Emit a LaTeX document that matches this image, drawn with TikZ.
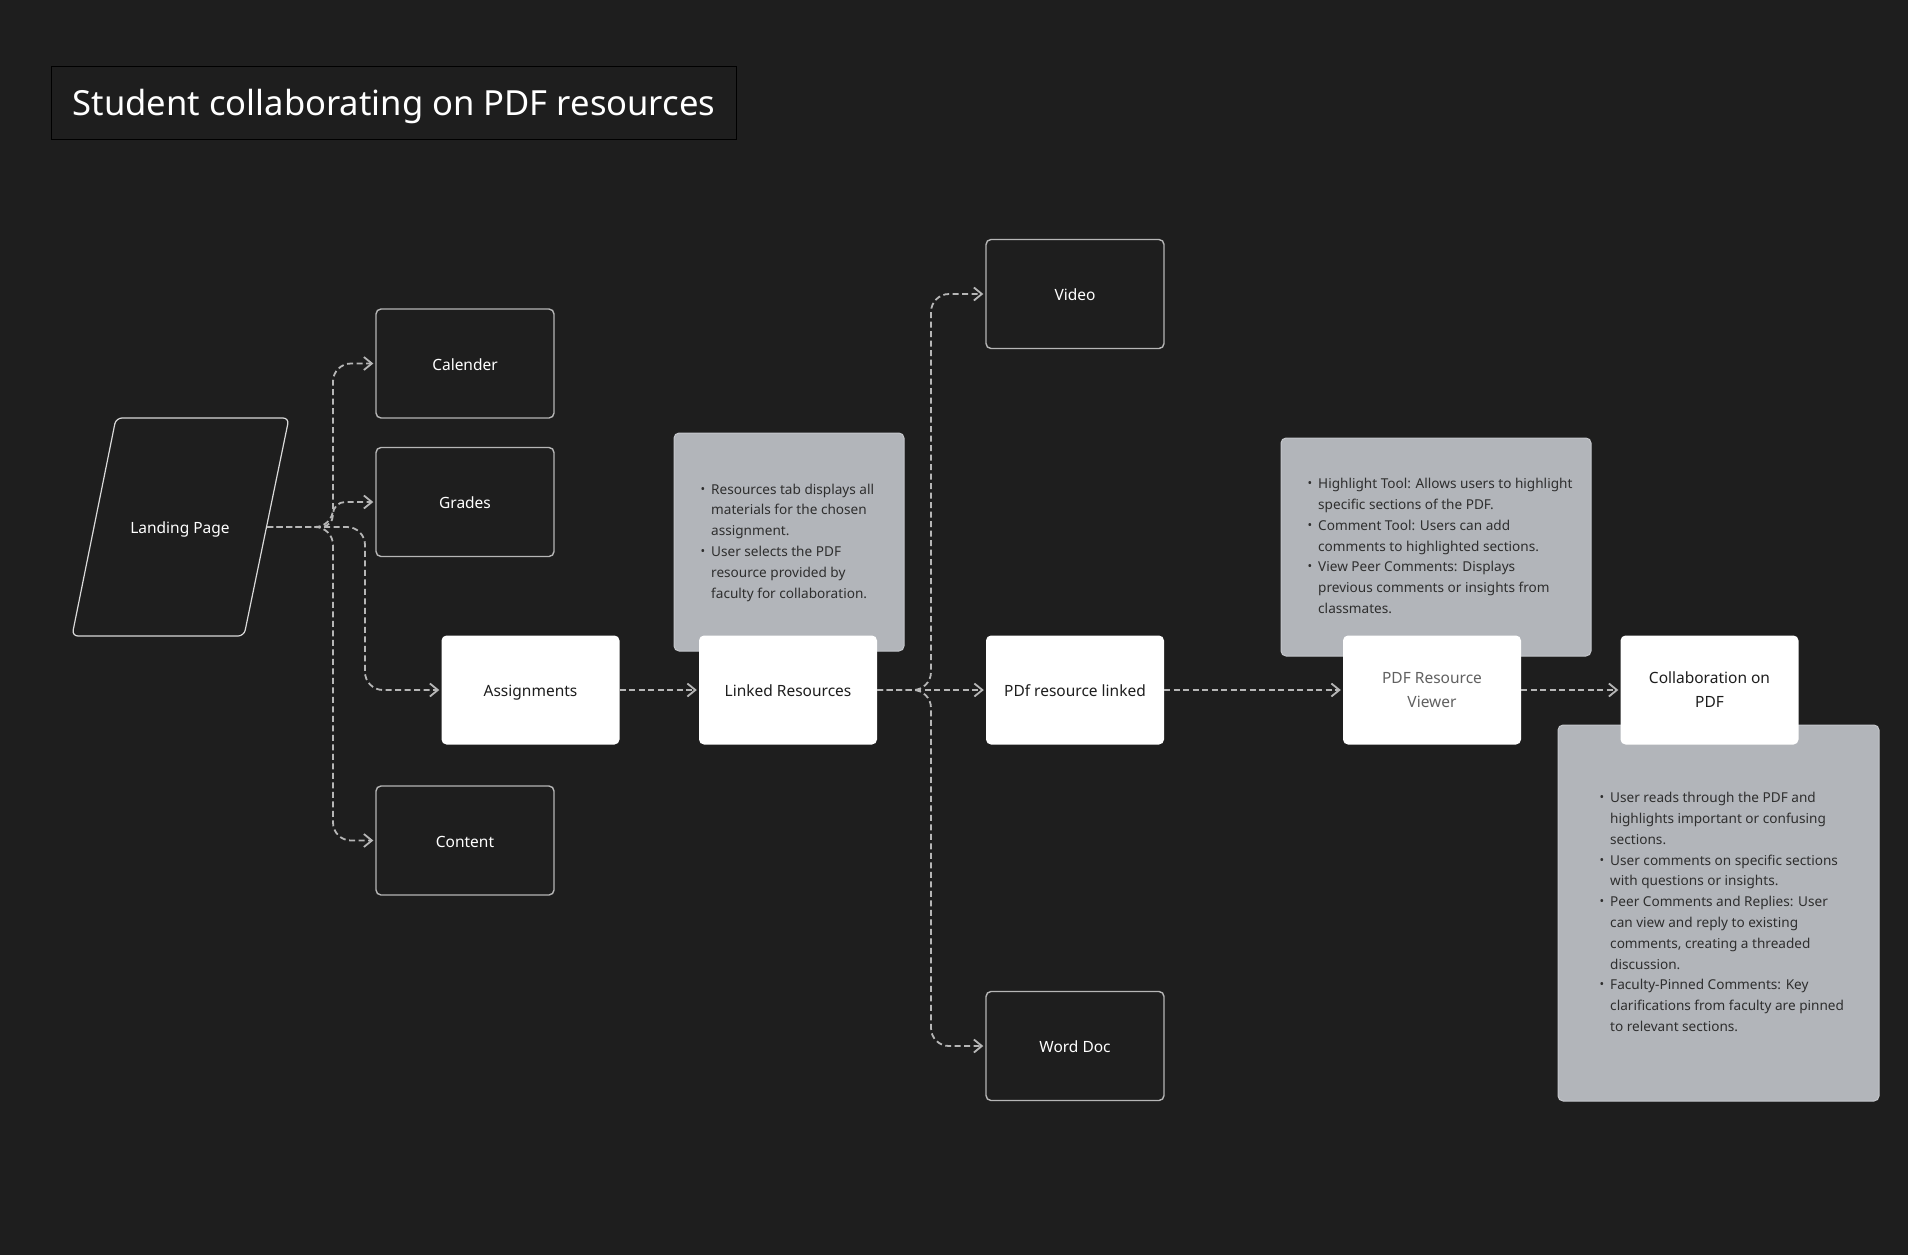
\documentclass[tikz,border=0pt]{standalone}
\usepackage{fontspec}
\setmainfont{Noto Sans}
\usepackage{graphicx}
\usepackage{tikz}
\usetikzlibrary{arrows.meta, positioning, calc}

\definecolor{bgc}{HTML}{1E1E1E}
\definecolor{linec}{HTML}{B6B6B6}
\definecolor{notec}{HTML}{B2B5BA}
\definecolor{notetxt}{HTML}{2E2E2E}
\definecolor{boxtxt}{HTML}{1E1E1E}

\newcommand{\nb}{\makebox[10.5pt][l]{\raisebox{0.15ex}{\scalebox{0.9}{\textbullet}}}}

\begin{document}
\begin{tikzpicture}[x=1pt,y=-1pt,
  oneline/.style={text height=13pt, text depth=0pt},
  darkbox/.style={draw=linec, line width=1.4pt, fill=bgc, rounded corners=5pt,
    minimum width=178pt, minimum height=109pt, text=white, oneline,
    font=\fontsize{15.5}{19}\selectfont},
  whitebox/.style={fill=white, rounded corners=5pt, minimum width=178pt,
    minimum height=109pt, text=boxtxt, align=center,
    font=\fontsize{15.5}{24}\selectfont},
  notebox/.style={fill=notec, draw=notec!75!white, line width=1pt, rounded corners=5pt},
  notetext/.style={text=notetxt, inner sep=0pt, anchor=west,
    font=\fontsize{13.6}{20.8}\selectfont},
  conn/.style={draw=linec, line width=1.8pt, dash pattern=on 6pt off 3.5pt,
    rounded corners=18pt, shorten >=2pt, -{Straight Barb[length=8pt,width=13pt]}}]

  % ---------- background ----------
  \fill[bgc] (0,0) rectangle (1908,1255);

  % ---------- title ----------
  \node[draw=black, line width=1pt, minimum width=685pt, minimum height=72pt,
        text height=24pt, text depth=0pt,
        text=white, font=\fontsize{34.6}{40}\selectfont] (title) at (394,103)
        {Student collaborating on PDF resources};

  % ---------- landing page ----------
  \draw[white!85!black, line width=1.2pt, rounded corners=6pt]
       (116,418) -- (289,418) -- (244,636) -- (72,636) -- cycle;
  \node[text=white, oneline, font=\fontsize{15.5}{19}\selectfont] (lp) at (180,527) {Landing Page};
  \coordinate (lpout) at (267,527);

  % ---------- menu ----------
  \node[darkbox] (cal) at (465,363.5) {Calender};
  \node[darkbox] (grd) at (465,502) {Grades};
  \node[darkbox] (cnt) at (465,840.5) {Content};

  % ---------- notes ----------
  \node[notebox, minimum width=230pt, minimum height=218pt] (note1) at (789,542) {};
  \node[notetext] at ([xshift=27pt]note1.west) {\begin{tabular}{@{}l@{}l@{}}
    \nb & Resources tab displays all\\
        & materials for the chosen\\
        & assignment.\\
    \nb & User selects the PDF\\
        & resource provided by\\
        & faculty for collaboration.
  \end{tabular}};

  \node[notebox, minimum width=310pt, minimum height=218pt] (note2) at (1436,547) {};
  \node[notetext] at ([xshift=27pt]note2.west) {\begin{tabular}{@{}l@{}l@{}}
    \nb & Highlight Tool: Allows users to highlight\\
        & specific sections of the PDF.\\
    \nb & Comment Tool: Users can add\\
        & comments to highlighted sections.\\
    \nb & View Peer Comments: Displays\\
        & previous comments or insights from\\
        & classmates.
  \end{tabular}};

  \node[notebox, minimum width=321pt, minimum height=376pt] (note3) at (1718.5,913) {};
  \node[notetext] at ([xshift=42pt]note3.west) {\begin{tabular}{@{}l@{}l@{}}
    \nb & User reads through the PDF and\\
        & highlights important or confusing\\
        & sections.\\
    \nb & User comments on specific sections\\
        & with questions or insights.\\
    \nb & Peer Comments and Replies: User\\
        & can view and reply to existing\\
        & comments, creating a threaded\\
        & discussion.\\
    \nb & Faculty-Pinned Comments: Key\\
        & clarifications from faculty are pinned\\
        & to relevant sections.
  \end{tabular}};

  % ---------- main flow ----------
  \node[whitebox, oneline] (asg) at (530.5,690) {Assignments};
  \node[whitebox, oneline] (lr)  at (788,690) {Linked Resources};
  \node[whitebox, oneline] (pdl) at (1075,690) {PDf resource linked};
  \node[whitebox, text=black!62] (viw) at (1432,690) {PDF Resource\\Viewer};
  \node[whitebox] (col) at (1709.5,690) {Collaboration on\\PDF};

  % ---------- resource types ----------
  \node[darkbox] (vid) at (1075,294) {Video};
  \node[darkbox] (wrd) at (1075,1046) {Word Doc};

  % ---------- connectors ----------
  \draw[conn] (lpout) -- (333,527) |- (cal.west);
  \draw[conn, rounded corners=12pt] (lpout) -- (333,527) |- (grd.west);
  \draw[conn] (lpout) -- (333,527) |- (cnt.west);
  \draw[conn] (lpout) -- (365,527) |- (asg.west);

  \draw[conn] (asg.east) -- (lr.west);
  \draw[conn] (lr.east) -- (pdl.west);
  \draw[conn] (lr.east) -- (931,690) |- (vid.west);
  \draw[conn] (lr.east) -- (931,690) |- (wrd.west);
  \draw[conn] (pdl.east) -- (viw.west);
  \draw[conn] (viw.east) -- (col.west);
\end{tikzpicture}
\end{document}
